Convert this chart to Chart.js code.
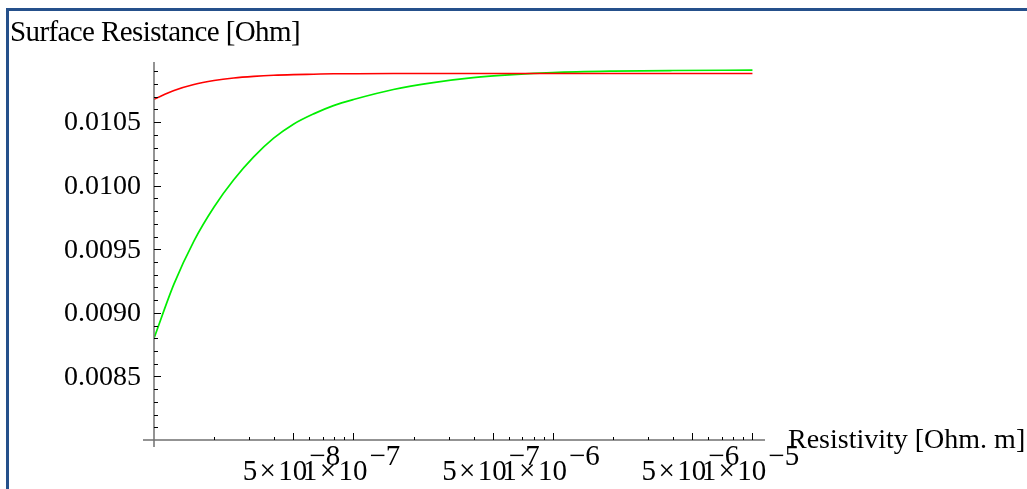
<!DOCTYPE html>
<html><head><meta charset="utf-8">
<style>html,body{margin:0;padding:0;background:#fff;overflow:hidden}canvas{display:block}</style>
<script src="https://cdn.jsdelivr.net/npm/chart.js@4/dist/chart.umd.min.js"></script>
</head><body>
<canvas id="c" width="1027" height="489"></canvas>
<script>
// ---- data ----
const resistivity = [1e-8, 1.26e-8, 1.585e-8, 2e-8, 2.51e-8, 3.16e-8, 3.98e-8, 5e-8, 6.31e-8, 7.94e-8, 1e-7, 1.585e-7, 2.51e-7, 3.98e-7, 6.31e-7, 1e-6, 2e-6, 3.98e-6, 1e-5];
const redSeries   = [0.010680, 0.010749, 0.010796, 0.010827, 0.010847, 0.010860, 0.010869, 0.010874, 0.010877, 0.010880, 0.010881, 0.010882, 0.010882, 0.010882, 0.010882, 0.010882, 0.010882, 0.010882, 0.010882];
const greenSeries = [0.008800, 0.009228, 0.009565, 0.009833, 0.010047, 0.010227, 0.010374, 0.010484, 0.010565, 0.010630, 0.010678, 0.010757, 0.010811, 0.010850, 0.010874, 0.010890, 0.010901, 0.010906, 0.010909];
const xTickValues = [5e-8, 1e-7, 5e-7, 1e-6, 5e-6, 1e-5];
const xTickMantissa = ['5', '1', '5', '1', '5', '1'];
const xTickExponent = ['\u22128', '\u22127', '\u22127', '\u22126', '\u22126', '\u22125'];
const yTickValues = [0.0085, 0.0090, 0.0095, 0.0100, 0.0105];
const yTickLabels = ['0.0085', '0.0090', '0.0095', '0.0100', '0.0105'];
const yAxisTitle = 'Surface Resistance [Ohm]';
const xAxisTitle = 'Resistivity [Ohm. m]';

const FONT = '"Liberation Serif", "Times New Roman", serif';

const axesPlugin = {
  id: 'mmaAxes',
  afterDraw(chart) {
    const ctx = chart.ctx;
    const xs = chart.scales.x, ys = chart.scales.y;
    const x0 = xs.getPixelForValue(1e-8);
    const y0 = ys.getPixelForValue(0.0080);
    const xEnd = chart.chartArea.right;
    const yTop = chart.chartArea.top;
    ctx.save();
    // frame
    ctx.strokeStyle = '#25508b';
    ctx.lineWidth = 3;
    ctx.beginPath();
    ctx.moveTo(6, 9.5); ctx.lineTo(1027, 9.5);
    ctx.moveTo(7.5, 8); ctx.lineTo(7.5, 489);
    ctx.stroke();
    // axis lines
    ctx.strokeStyle = '#707070';
    ctx.lineWidth = 1.5;
    ctx.beginPath();
    ctx.moveTo(x0, yTop); ctx.lineTo(x0, y0 + 7);
    ctx.moveTo(x0 - 11, y0); ctx.lineTo(xEnd, y0);
    ctx.stroke();
    // y ticks
    ctx.strokeStyle = '#000';
    ctx.lineWidth = 1;
    ctx.beginPath();
    for (let i = 81; i <= 109; i++) {
      const v = i / 10000;
      const p = Math.round(ys.getPixelForValue(v)) + 0.5;
      const len = (i % 5 === 0) ? 7 : 4;
      ctx.moveTo(x0, p); ctx.lineTo(x0 + len, p);
    }
    // x ticks
    for (let e = -8; e <= -5; e++) {
      for (let m = 1; m <= 9; m++) {
        const v = m * Math.pow(10, e);
        if (v <= 1e-8 * 1.0001 || v > 1e-5 * 1.0001) continue;
        const p = Math.round(xs.getPixelForValue(v)) + 0.5;
        const major = (m === 1 || m === 5);
        const len = major ? 7 : 3;
        ctx.moveTo(p, y0); ctx.lineTo(p, y0 - len);
      }
    }
    ctx.stroke();
    // y tick labels
    ctx.fillStyle = '#000';
    ctx.font = '28px ' + FONT;
    ctx.textAlign = 'right';
    ctx.textBaseline = 'middle';
    yTickValues.forEach((v, i) => {
      ctx.fillText(yTickLabels[i], x0 - 13, ys.getPixelForValue(v) + 1);
    });
    // x tick labels (mantissa × 10^exp)
    ctx.textAlign = 'left';
    ctx.textBaseline = 'alphabetic';
    ctx.font = '29px ' + FONT;
    xTickValues.forEach((v, i) => {
      const base = xTickMantissa[i] + '\u200a\u00d7\u200a10';
      const sup = xTickExponent[i];
      const wb = ctx.measureText(base).width;
      const ws = ctx.measureText(sup).width;
      const gap = 2;
      const total = wb + gap + ws;
      const cx = xs.getPixelForValue(v);
      const sx = cx - total / 2 - 2;
      ctx.fillText(base, sx, 480);
      ctx.fillText(sup, sx + wb + gap, 465);
    });
    // axis titles
    ctx.font = '29px ' + FONT;
    if ('letterSpacing' in ctx) ctx.letterSpacing = '-0.6px';
    ctx.fillText(yAxisTitle, 10, 41);
    if ('letterSpacing' in ctx) ctx.letterSpacing = '0px';
    ctx.font = '28px ' + FONT;
    ctx.fillText(xAxisTitle, 788, 448);
    ctx.restore();
  }
};

new Chart(document.getElementById('c'), {
  type: 'line',
  data: {
    datasets: [
      { label: 'red', data: resistivity.map((x, i) => ({ x, y: redSeries[i] })), borderColor: '#ff0000', borderWidth: 1.6, pointRadius: 0, fill: false, cubicInterpolationMode: 'monotone' },
      { label: 'green', data: resistivity.map((x, i) => ({ x, y: greenSeries[i] })), borderColor: '#00ee00', borderWidth: 1.7, pointRadius: 0, fill: false, cubicInterpolationMode: 'monotone' }
    ]
  },
  options: {
    responsive: false,
    animation: false,
    events: [],
    layout: { padding: { left: 154, right: 262, top: 62, bottom: 49 } },
    plugins: { legend: { display: false }, tooltip: { enabled: false } },
    scales: {
      x: { type: 'logarithmic', min: 1e-8, max: 1.156e-5, display: false },
      y: { type: 'linear', min: 0.0080, max: 0.010973, display: false }
    }
  },
  plugins: [axesPlugin]
});
</script>
</body></html>
